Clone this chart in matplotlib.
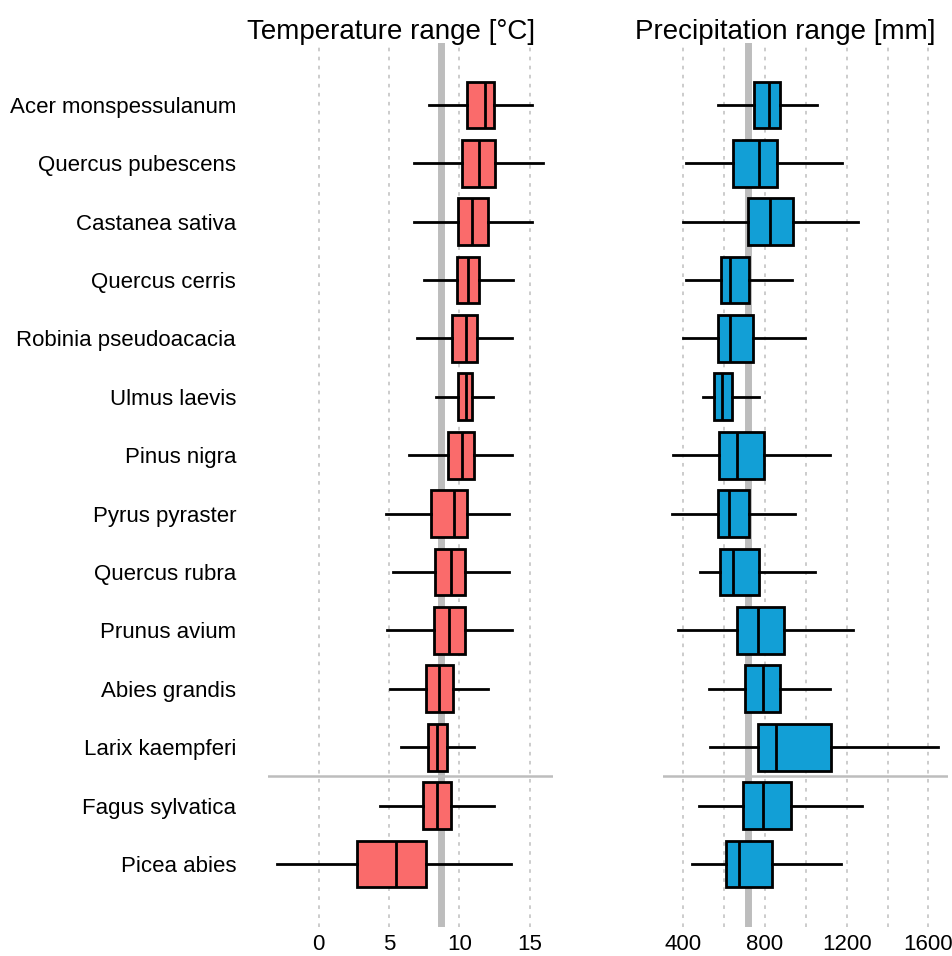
import matplotlib.pyplot as plt

plt.rcParams['font.family'] = ['Liberation Sans', 'DejaVu Sans']

species = ['Acer monspessulanum', 'Quercus pubescens', 'Castanea sativa',
           'Quercus cerris', 'Robinia pseudoacacia', 'Ulmus laevis',
           'Pinus nigra', 'Pyrus pyraster', 'Quercus rubra', 'Prunus avium',
           'Abies grandis', 'Larix kaempferi', 'Fagus sylvatica', 'Picea abies']

# temperature: whisker low, q1, median, q3, whisker high
t_lo  = [7.86, 6.77, 6.77, 7.48, 6.96, 8.36, 6.44, 4.76, 5.26, 4.87, 5.07, 5.87, 4.36, -2.94]
t_q1  = [10.56, 10.18, 9.90, 9.81, 9.50, 9.90, 9.21, 8.00, 8.29, 8.19, 7.65, 7.77, 7.39, 2.74]
t_med = [11.82, 11.41, 10.90, 10.61, 10.47, 10.45, 10.21, 9.59, 9.38, 9.28, 8.55, 8.39, 8.39, 5.49]
t_q3  = [12.44, 12.51, 12.03, 11.41, 11.25, 10.92, 11.04, 10.52, 10.42, 10.42, 9.52, 9.12, 9.42, 7.60]
t_hi  = [15.14, 15.96, 15.14, 13.83, 13.76, 12.37, 13.76, 13.55, 13.55, 13.76, 12.05, 11.06, 12.48, 13.65]
t_ref = 8.67

# precipitation
p_lo  = [570, 413, 397, 413, 400, 496, 351, 346, 480, 376, 524, 529, 478, 441]
p_q1  = [748, 642, 717, 586, 571, 550, 575, 571, 581, 663, 704, 767, 692, 611]
p_med = [818, 769, 826, 629, 629, 591, 665, 625, 642, 766, 790, 854, 790, 673]
p_q3  = [875, 859, 937, 723, 740, 638, 795, 723, 769, 891, 874, 1123, 927, 834]
p_hi  = [1056, 1176, 1256, 931, 998, 771, 1120, 945, 1045, 1233, 1120, 1649, 1277, 1171]
p_ref = 715

W, H = 952, 956
fig = plt.figure(figsize=(W / 100, H / 100), dpi=100)

ax1 = fig.add_axes([268 / W, 1 - 927 / H, 285 / W, 884 / H])
ax2 = fig.add_axes([663 / W, 1 - 927 / H, 285 / W, 884 / H])

ypos = [len(species) - 1 - i for i in range(len(species))]


def draw(ax, lo, q1, med, q3, hi, ref, color, xlim, grid, ticks):
    for g in grid:
        ax.axvline(g, color='#c8c8c8', lw=1.3, ls=(0, (2, 3)), zorder=0)
    ax.axvline(ref, color='#bdbdbd', lw=5, zorder=1)
    ax.axhline(1.5, color='#bdbdbd', lw=1.8, zorder=1)
    stats = [dict(whislo=a, q1=b, med=c, q3=d, whishi=e, fliers=[])
             for a, b, c, d, e in zip(lo, q1, med, q3, hi)]
    ax.bxp(stats, positions=ypos, widths=0.8, vert=False, patch_artist=True,
           showcaps=False, showfliers=False,
           boxprops=dict(facecolor=color, edgecolor='black', lw=2),
           medianprops=dict(color='black', lw=2),
           whiskerprops=dict(color='black', lw=2), zorder=2)
    ax.set_xlim(*xlim)
    ax.set_ylim(-1.08, len(species) - 1 + 1.06)
    ax.set_xticks(ticks)
    ax.set_xticklabels([str(t) for t in ticks])
    ax.tick_params(axis='x', length=0, labelsize=16, pad=5)
    for s in ax.spines.values():
        s.set_visible(False)


draw(ax1, t_lo, t_q1, t_med, t_q3, t_hi, t_ref, '#fa6b6b',
     (-3.6, 16.65), [0, 5, 10, 15], [0, 5, 10, 15])
draw(ax2, p_lo, p_q1, p_med, p_q3, p_hi, p_ref, '#129fd6',
     (300.6, 1696), [400, 600, 800, 1000, 1200, 1400, 1600],
     [400, 800, 1200, 1600])

ax1.set_yticks(ypos)
ax1.set_yticklabels(species)
ax1.tick_params(axis='y', length=0, labelsize=16, pad=23)
ax2.set_yticks([])

fig.text(391 / W, 1 - 39 / H, 'Temperature range [°C]', fontsize=20,
         ha='center', va='baseline')
fig.text(785 / W, 1 - 39 / H, 'Precipitation range [mm]', fontsize=20,
         ha='center', va='baseline')

fig.savefig('out.png', dpi=100)
